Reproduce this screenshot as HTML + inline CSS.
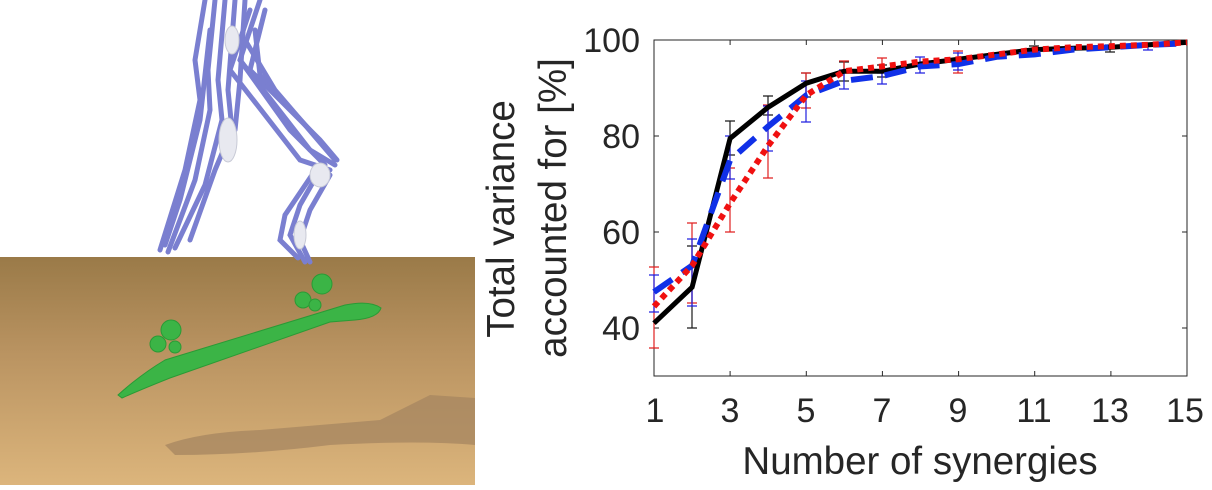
<!DOCTYPE html>
<html><head><meta charset="utf-8"><style>
html,body{margin:0;padding:0;background:#fff;}
svg{display:block;}
text{font-family:"Liberation Sans",Arial,sans-serif;fill:#262626;}
</style></head><body>
<svg width="1212" height="490" viewBox="0 0 1212 490" xmlns="http://www.w3.org/2000/svg">
<defs>
<linearGradient id="floor" x1="0" y1="0" x2="0" y2="1">
<stop offset="0" stop-color="#9a7a48"/>
<stop offset="0.4" stop-color="#b89260"/>
<stop offset="1" stop-color="#dcb57c"/>
</linearGradient>
</defs>
<!-- left picture -->
<rect x="0" y="257" width="475" height="228" fill="url(#floor)"/>
<path d="M165 445 Q200 432 260 430 L380 420 L430 395 L475 398 L475 445 Q420 440 330 445 Q250 455 175 455 Z" fill="#a58560" opacity="0.75"/>
<g stroke="#7a7fd0" stroke-linecap="round" fill="none" stroke-width="5">
<path d="M205 0 L195 60 L200 100 L185 170 L160 250"/>
<path d="M215 0 L208 70 L210 110 L195 180 L168 252"/>
<path d="M225 0 L218 80 L222 120 L205 185 L175 248"/>
<path d="M235 0 L228 90 L232 130 L215 170 L190 240"/>
<path d="M210 30 L200 120 L180 200 L165 245"/>
<path d="M245 0 L240 80 L235 130"/>
<path d="M250 10 L230 70 L300 160 L330 170"/>
<path d="M260 0 L240 60 L310 150 L335 165"/>
<path d="M265 10 L250 70 L320 140 L337 160"/>
<path d="M255 30 L260 75 L328 150"/>
<path d="M245 40 L275 90 L335 160"/>
<path d="M240 60 L290 130 L325 165"/>
<path d="M320 170 L300 205 L290 235 L305 262"/>
<path d="M330 175 L310 210 L300 240 L310 262"/>
<path d="M312 175 L285 215 L280 240 L298 258"/>
</g>
<g fill="#e8e9f0" stroke="#c8cad6">
<ellipse cx="228" cy="140" rx="9" ry="22"/>
<ellipse cx="320" cy="175" rx="10" ry="12"/>
<ellipse cx="232" cy="40" rx="7" ry="14"/>
<ellipse cx="300" cy="235" rx="6" ry="14"/>
</g>
<g fill="#3bb446" stroke="#2a9a35" stroke-width="1">
<path d="M118 395 Q140 375 165 360 L345 305 Q370 300 381 308 Q378 318 355 320 L330 322 L170 378 Q140 390 122 398 Z"/>
<circle cx="171" cy="330" r="10"/><circle cx="158" cy="344" r="8"/><circle cx="175" cy="347" r="6"/>
<circle cx="322" cy="284" r="10"/><circle cx="303" cy="300" r="8"/><circle cx="315" cy="305" r="6"/>
</g>
<!-- chart -->
<rect x="654" y="40" width="533" height="336" fill="#fff" stroke="#262626" stroke-width="1"/>
<g stroke="#262626" stroke-width="1">
<line x1="654" y1="136" x2="659" y2="136"/><line x1="654" y1="232" x2="659" y2="232"/><line x1="654" y1="328" x2="659" y2="328"/>
<line x1="1187" y1="136" x2="1182" y2="136"/><line x1="1187" y1="232" x2="1182" y2="232"/><line x1="1187" y1="328" x2="1182" y2="328"/>
<line x1="730.1" y1="376" x2="730.1" y2="371"/><line x1="806.3" y1="376" x2="806.3" y2="371"/><line x1="882.4" y1="376" x2="882.4" y2="371"/><line x1="958.6" y1="376" x2="958.6" y2="371"/><line x1="1034.7" y1="376" x2="1034.7" y2="371"/><line x1="1110.9" y1="376" x2="1110.9" y2="371"/>
<line x1="730.1" y1="40" x2="730.1" y2="45"/><line x1="806.3" y1="40" x2="806.3" y2="45"/><line x1="882.4" y1="40" x2="882.4" y2="45"/><line x1="958.6" y1="40" x2="958.6" y2="45"/><line x1="1034.7" y1="40" x2="1034.7" y2="45"/><line x1="1110.9" y1="40" x2="1110.9" y2="45"/>
</g>
<g font-size="34" text-anchor="end">
<text x="640" y="52">100</text><text x="640" y="148">80</text><text x="640" y="244">60</text><text x="640" y="340">40</text>
</g>
<g font-size="34" text-anchor="middle">
<text x="655" y="422">1</text><text x="730" y="422">3</text><text x="806" y="422">5</text><text x="882" y="422">7</text><text x="958" y="422">9</text><text x="1034" y="422">11</text><text x="1110" y="422">13</text><text x="1185" y="422">15</text>
</g>
<g font-size="38.5" text-anchor="middle">
<text x="920" y="474">Number of synergies</text>
<text transform="translate(514,219) rotate(-90)">Total variance</text>
<text transform="translate(566,208) rotate(-90)">accounted for [%]</text>
</g>
<!-- error bars -->
<g stroke-width="1.2" fill="none">
<path stroke="#1a1a1a" d="M692 328V246M687 328h10M687 246h10M730 155V121M725 155h10M725 121h10M768 115V96M763 115h10M763 96h10M806 97V73M801 97h10M801 73h10M844 81V62M839 81h10M839 62h10M882 77V65M877 77h10M877 65h10M1034 52V46M1029 52h10M1029 46h10M1110 52V45M1105 52h10M1105 45h10"/>
<path stroke="#e02020" d="M654 348V267M649 348h10M649 267h10M692 303V223M687 303h10M687 223h10M730 232V168M725 232h10M725 168h10M768 178V105M763 178h10M763 105h10M806 108V73M801 108h10M801 73h10M844 70V61M839 70h10M839 61h10M882 70V58M877 70h10M877 58h10M958 73V51M953 73h10M953 51h10"/>
<path stroke="#2020e0" d="M654 312V275M649 312h10M649 275h10M692 306V239M687 306h10M687 239h10M730 179V136M725 179h10M725 136h10M768 151V106M763 151h10M763 106h10M806 122V81M801 122h10M801 81h10M844 89V70M839 89h10M839 70h10M882 84V73M877 84h10M877 73h10M920 73V57M915 73h10M915 57h10M958 70V53M953 70h10M953 53h10M1148 50V44M1143 50h10M1143 44h10"/>
</g>
<!-- series -->
<polyline fill="none" stroke="#000" stroke-width="5" points="654,323.2 692.1,287.2 730.1,138.4 768.2,107.2 806.3,83.2 844.3,71.2 882.4,71.2 920.5,64 958.6,59.2 996.6,54.4 1034.7,49.6 1072.8,48.2 1110.9,47.2 1148.9,44.8 1187,42.4"/>
<polyline fill="none" stroke="#1030e8" stroke-width="6" stroke-dasharray="22,12" points="654,292 692.1,265.6 730.1,160 768.2,126.4 806.3,95.2 844.3,80.8 882.4,76 920.5,66.4 958.6,64 996.6,56.8 1034.7,54.4 1072.8,49.6 1110.9,47.2 1148.9,44.8 1187,43.4"/>
<polyline fill="none" stroke="#f01010" stroke-width="6" stroke-dasharray="6,5" points="654,306.4 692.1,265.6 730.1,203.2 768.2,145.6 806.3,95.2 844.3,71.2 882.4,66.4 920.5,61.6 958.6,59.2 996.6,54.4 1034.7,49.6 1072.8,47.2 1110.9,46.2 1148.9,44.8 1187,42.4"/>
</svg>
</body></html>
